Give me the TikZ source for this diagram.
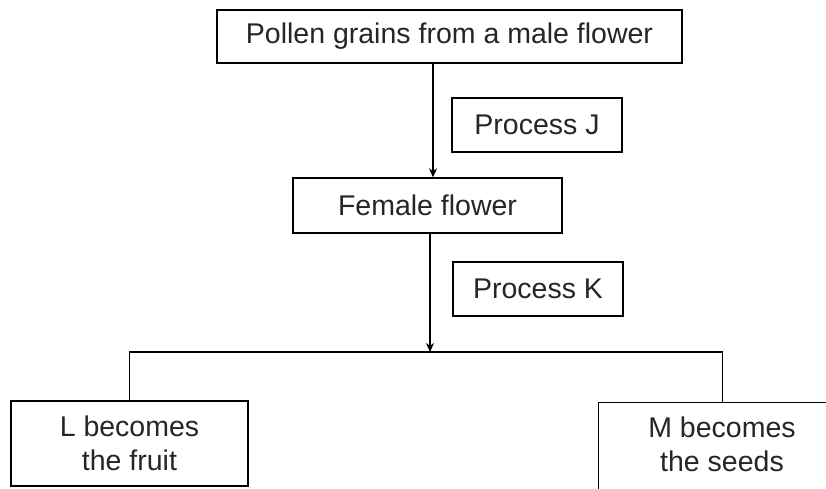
\documentclass[tikz,border=0pt]{standalone}
\usepackage{fontspec}
\setmainfont{Liberation Sans}
\usetikzlibrary{arrows.meta}
\begin{document}
\begin{tikzpicture}[x=1pt,y=-1pt,
  box/.style={draw=black, line width=1.4pt, inner sep=0pt, align=center,
    font=\fontsize{28.5}{34}\selectfont, text=black!85},
  txt/.style={inner sep=0pt, align=center, font=\fontsize{28.5}{34}\selectfont, text=black!85},
  conn/.style={draw=black, line width=1.4pt},
  arr/.style={conn, -{Stealth[length=9pt,width=8pt]}}]
\clip (0,0) rectangle (826,489);
\fill[white] (0,0) rectangle (826,489);
\node[box, minimum width=465pt, minimum height=53pt] (top) at (449.5,36.5) {Pollen grains from a male flower};
\node[box, minimum width=170pt, minimum height=54pt] (pj) at (537,125) {Process J};
\node[box, minimum width=269pt, minimum height=55pt] (ff) at (427.5,205.5) {Female flower};
\node[box, minimum width=170pt, minimum height=54pt] (pk) at (538,289) {Process K};
\node[box, minimum width=237pt, minimum height=85pt] (L) at (129.5,443.5) {L becomes\\the fruit};
\node[box, minimum width=248pt, minimum height=100pt, anchor=north west] (M) at (598,402) {};
\node[txt] (Mt) at (722,444) {M becomes\\the seeds};
\coordinate (ja) at (433,0);
\coordinate (ka) at (430,0);
\coordinate (split) at (430,352);
\draw[arr] (top.south -| ja) -- (ff.north -| ja);
\draw[arr] (ff.south -| ka) -- (split);
\draw[conn] (L.north) |- (split) -| (M.north);
\end{tikzpicture}
\end{document}
